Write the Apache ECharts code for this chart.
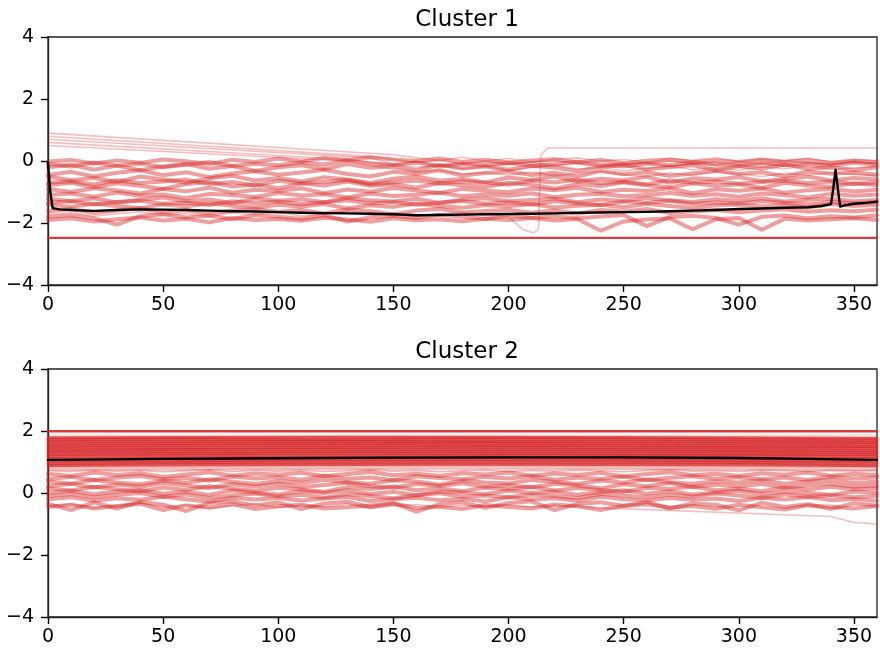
<!DOCTYPE html>
<html><head><meta charset="utf-8">
<script src="https://cdn.jsdelivr.net/npm/echarts@6/dist/echarts.min.js"></script>
<style>html,body{margin:0;padding:0;background:#fff}#c{width:880px;height:654px}</style>
</head><body><div id="c"></div>
<script>
// ---------- shared x grid ----------
const xs = [0,10,20,30,40,50,60,70,80,90,100,110,120,130,140,150,160,170,180,190,200,210,220,230,240,250,260,270,280,290,300,310,320,330,340,350,360];
const xTicks = [0,50,100,150,200,250,300,350];
const yTicks = [-4,-2,0,2,4];
const titles = ['Cluster 1','Cluster 2'];

// ---------- Cluster 1 ----------
const c1a = [-0.02,0.03,-0.08,0.02,-0.06,0.05,-0.01,-0.1,0.04,-0.03, 0.08,-0.02,0.1,0.03,0.12,0.05,0.0,0.08,-0.03,0.04, -0.05,0.02,0.06,-0.04,0.03,-0.07,0.01,0.05,-0.04,0.02, -0.03,0.05,-0.02,0.03,-0.06,0.02,-0.03];
const c1m = [-0.1,-0.18,-0.05,-0.15,-0.08,-0.2,-0.12,-0.03,-0.16,-0.09, -0.14,-0.04,-0.11,0.02,-0.07,-0.13,-0.05,-0.17,-0.09,-0.12, -0.06,-0.15,-0.1,-0.02,-0.12,-0.18,-0.08,-0.14,-0.05,-0.11, -0.16,-0.07,-0.13,-0.09,-0.15,-0.06,-0.12];
const c1b = [-0.2,-0.12,-0.28,-0.15,-0.3,-0.18,-0.1,-0.25,-0.16,-0.32, -0.2,-0.14,-0.26,-0.1,-0.22,-0.17,-0.3,-0.12,-0.24,-0.18, -0.28,-0.15,-0.21,-0.33,-0.19,-0.12,-0.27,-0.2,-0.14,-0.29, -0.17,-0.24,-0.11,-0.26,-0.19,-0.3,-0.2];
const c1c = [-0.45,-0.35,-0.5,-0.38,-0.3,-0.46,-0.36,-0.52,-0.4,-0.33, -0.44,-0.37,-0.28,-0.42,-0.5,-0.35,-0.41,-0.3,-0.47,-0.39, -0.34,-0.45,-0.38,-0.5,-0.32,-0.43,-0.36,-0.48,-0.4,-0.31, -0.42,-0.36,-0.49,-0.34,-0.41,-0.37,-0.44];
const c1d = [-0.5,-0.62,-0.55,-0.68,-0.5,-0.6,-0.7,-0.56,-0.48,-0.63, -0.55,-0.66,-0.52,-0.6,-0.71,-0.57,-0.5,-0.64,-0.58,-0.69, -0.53,-0.61,-0.49,-0.66,-0.57,-0.62,-0.51,-0.7,-0.56,-0.6, -0.52,-0.65,-0.58,-0.5,-0.63,-0.55,-0.6];
const c1n = [-0.7,-0.65,-0.76,-0.62,-0.71,-0.66,-0.6,-0.74,-0.68,-0.79, -0.64,-0.72,-0.67,-0.61,-0.75,-0.69,-0.63,-0.73,-0.66,-0.7, -0.77,-0.64,-0.69,-0.6,-0.72,-0.67,-0.75,-0.62,-0.7,-0.66, -0.73,-0.68,-0.64,-0.71,-0.66,-0.74,-0.69];
const c1e = [-0.78,-0.7,-0.85,-0.72,-0.8,-0.9,-0.74,-0.68,-0.82,-0.76, -0.88,-0.73,-0.79,-0.66,-0.8,-0.75,-0.86,-0.71,-0.78,-0.84, -0.7,-0.77,-0.89,-0.74,-0.81,-0.69,-0.78,-0.85,-0.72,-0.8, -0.75,-0.87,-0.7,-0.79,-0.83,-0.72,-0.78];
const c1f = [-0.9,-1.0,-0.88,-0.95,-1.05,-0.9,-0.98,-0.86,-1.02,-0.93, -0.97,-0.88,-1.04,-0.92,-0.99,-0.87,-0.95,-1.03,-0.9,-0.96, -1.01,-0.89,-0.94,-0.86,-1.0,-0.93,-0.97,-0.88,-1.04,-0.91, -0.96,-0.89,-1.02,-0.94,-0.9,-0.98,-0.93];
const c1g = [-1.1,-1.05,-1.15,-1.02,-1.12,-1.08,-1.2,-1.06,-1.1,-1.16, -1.03,-1.11,-1.07,-1.18,-1.05,-1.13,-1.09,-1.02,-1.14,-1.08, -1.12,-1.04,-1.17,-1.09,-1.06,-1.14,-1.1,-1.03,-1.12,-1.07, -1.15,-1.05,-1.1,-1.18,-1.06,-1.12,-1.08];
const c1h = [-1.22,-1.3,-1.2,-1.34,-1.25,-1.18,-1.3,-1.24,-1.36,-1.21, -1.28,-1.23,-1.33,-1.19,-1.27,-1.31,-1.22,-1.35,-1.25,-1.2, -1.3,-1.26,-1.21,-1.33,-1.24,-1.29,-1.19,-1.27,-1.32,-1.23, -1.28,-1.2,-1.31,-1.25,-1.22,-1.3,-1.26];
const c1o = [-1.35,-1.3,-1.4,-1.32,-1.28,-1.38,-1.34,-1.42,-1.3,-1.36, -1.31,-1.39,-1.33,-1.27,-1.37,-1.32,-1.41,-1.35,-1.29,-1.38, -1.33,-1.4,-1.3,-1.36,-1.42,-1.31,-1.35,-1.28,-1.39,-1.34, -1.37,-1.3,-1.35,-1.4,-1.32,-1.36,-1.33];
const c1i = [-1.4,-1.48,-1.38,-1.45,-1.52,-1.4,-1.46,-1.36,-1.44,-1.5, -1.41,-1.47,-1.39,-1.53,-1.43,-1.48,-1.37,-1.45,-1.51,-1.42, -1.46,-1.39,-1.5,-1.44,-1.41,-1.49,-1.38,-1.45,-1.52,-1.43, -1.4,-1.47,-1.42,-1.5,-1.39,-1.45,-1.41];
const c1j = [-1.62,-1.55,-1.68,-1.6,-1.52,-1.66,-1.58,-1.7,-1.6,-1.55, -1.64,-1.58,-1.69,-1.56,-1.62,-1.72,-1.6,-1.54,-1.66,-1.61, -1.57,-1.67,-1.6,-1.7,-1.58,-1.63,-1.55,-1.68,-1.62,-1.58, -1.65,-1.6,-1.56,-1.64,-1.59,-1.62,-1.57];
const c1k = [-1.8,-1.75,-1.85,-2.05,-1.78,-1.72,-1.82,-1.76,-1.88,-1.74, -1.8,-1.86,-1.75,-1.95,-1.82,-1.77,-1.84,-1.73,-1.8,-1.87, -1.76,-1.83,-1.78,-1.85,-1.79,-1.74,-2.1,-1.81,-1.77,-1.84, -2.05,-1.8,-1.76,-1.85,-1.78,-1.82,-1.75];
const c1l = [-1.9,-1.85,-1.95,-1.88,-1.82,-1.92,-1.86,-1.98,-1.84,-1.9, -1.87,-1.93,-1.83,-1.89,-1.96,-1.85,-1.91,-1.88,-1.94,-1.86, -1.9,-1.84,-1.92,-1.87,-2.25,-1.95,-1.89,-1.85,-2.2,-1.88, -1.84,-2.22,-1.86,-1.92,-1.88,-1.85,-1.9];
// lines with a gap at the start (straight segment)
const s1 = [0.9,null,null,null,null,null,null,null,null,null,null,null,null,null,null,0.2, 0.1,0.02,0.12,0.0,0.08,-0.03,0.06,0.1,0.0,0.05,-0.05,0.08,0.02,0.1,-0.02,0.06,0.0,0.09,-0.04,0.04,0.01];
const s2 = [0.8,null,null,null,null,null,null,null,null,null,null,null,null,null,0.15, 0.05,-0.05,0.02,-0.1,-0.02,-0.12,-0.04,0.0,-0.08,-0.15,-0.05,-0.1,0.0,-0.07,-0.13,-0.03,-0.09,0.01,-0.06,-0.11,-0.02,-0.08];
const s3 = [0.7,null,null,null,null,null,null,null,null,null,null,null,null,null,0.1, -0.1,-0.2,-0.15,-0.25,-0.18,-0.3,-0.22,-0.14,-0.26,-0.2,-0.32,-0.24,-0.17,-0.28,-0.21,-0.3,-0.19,-0.25,-0.16,-0.27,-0.22,-0.18];
const s4 = [0.6,null,null,null,null,null,null,null,null,null,null,null,null,0.05, -0.05,-0.12,-0.02,-0.15,-0.08,-0.18,-0.1,-0.04,-0.14,-0.09,-0.2,-0.11,-0.06,-0.16,-0.1,-0.03,-0.13,-0.08,-0.17,-0.07,-0.12,-0.05,-0.1];
const s5 = [0.5,null,null,null,null,null,null,null,null,null,null,null,null,0.0, -0.15,-0.25,-0.35,-0.3,-0.42,-0.38,-0.45,-0.36,-0.48,-0.4,-0.33,-0.44,-0.5,-0.39,-0.46,-0.35,-0.42,-0.5,-0.4,-0.45,-0.37,-0.43,-0.48];
// line that jumps up near x=213
const jumpX = [0,10,20,30,40,50,60,70,80,90,100,110,120,130,140,150,160,170,180,190,200,206,211,213,214,217,360];
const jumpY = [-1.72,-1.66,-1.78,-1.7,-1.64,-1.76,-1.69,-1.8,-1.67,-1.73,-1.65,-1.77,-1.7,-1.62,-1.75,-1.68,-1.79,-1.71,-1.66,-1.74,-1.8,-2.2,-2.32,-2.2,0.2,0.42,0.42];
const lowX = [0,360];
const lowY = [-2.48,-2.48];
// cluster 1 centroid
const meanX1 = [0,1,2,5,10,20,30,40,50,60,70,80,90,100,110,120,130,140,150,160,170,180,190,200,210,220,230,240,250,260,270,280,290,300,310,320,330,336,340,341,342,343,344,346,350,355,360];
const meanY1 = [-0.05,-1.0,-1.52,-1.56,-1.58,-1.61,-1.58,-1.56,-1.57,-1.58,-1.6,-1.62,-1.63,-1.65,-1.67,-1.68,-1.69,-1.7,-1.72,-1.75,-1.74,-1.73,-1.72,-1.71,-1.7,-1.69,-1.67,-1.66,-1.65,-1.64,-1.62,-1.6,-1.58,-1.55,-1.53,-1.51,-1.49,-1.45,-1.39,-0.9,-0.29,-0.9,-1.47,-1.43,-1.38,-1.35,-1.31];

// ---------- Cluster 2 ----------
const topX = [0,360];
const topY = [1.99,1.99];
const faintY = [1.86,1.86];
const flatX = [0,60,120,180,240,300,360];
const f1 = [1.78,1.79,1.8,1.8,1.79,1.78,1.77];
const f2 = [1.72,1.73,1.72,1.74,1.73,1.72,1.7];
const f3 = [1.65,1.66,1.67,1.66,1.66,1.65,1.64];
const f4 = [1.58,1.6,1.6,1.61,1.6,1.59,1.57];
const f5 = [1.52,1.53,1.54,1.54,1.53,1.52,1.5];
const f6 = [1.45,1.46,1.47,1.48,1.47,1.46,1.44];
const f7 = [1.38,1.4,1.41,1.41,1.4,1.39,1.37];
const f8 = [1.32,1.33,1.34,1.35,1.34,1.33,1.31];
const f9 = [1.25,1.27,1.28,1.28,1.27,1.26,1.24];
const f10 = [1.18,1.2,1.21,1.22,1.21,1.2,1.17];
const f11 = [1.1,1.12,1.14,1.15,1.14,1.12,1.1];
const f12 = [1.03,1.05,1.07,1.08,1.07,1.05,1.03];
const f13 = [0.96,0.98,1.0,1.01,1.0,0.98,0.96];
const f14 = [0.89,0.91,0.92,0.93,0.92,0.91,0.88];
const f15 = [0.82,0.84,0.85,0.86,0.85,0.84,0.82];
const f16 = [0.76,0.77,0.78,0.79,0.78,0.77,0.75];
const n11 = [0.72,0.7,0.74,0.71,0.73,0.69,0.72,0.75,0.7,0.73, 0.71,0.74,0.7,0.72,0.75,0.71,0.73,0.69,0.72,0.74, 0.7,0.73,0.71,0.74,0.72,0.69,0.73,0.75,0.71,0.72, 0.7,0.74,0.72,0.7,0.73,0.71,0.72];
const n1 = [0.62,0.55,0.66,0.58,0.64,0.52,0.6,0.67,0.56,0.63, 0.59,0.65,0.54,0.61,0.68,0.57,0.62,0.55,0.64,0.6, 0.66,0.56,0.63,0.58,0.65,0.53,0.61,0.67,0.57,0.62, 0.55,0.64,0.59,0.66,0.56,0.62,0.58];
const n2 = [0.45,0.52,0.42,0.5,0.55,0.44,0.49,0.4,0.53,0.47, 0.51,0.43,0.56,0.46,0.5,0.41,0.54,0.48,0.44,0.52, 0.47,0.55,0.43,0.5,0.45,0.53,0.41,0.49,0.54,0.46, 0.51,0.44,0.5,0.42,0.53,0.47,0.5];
const n3 = [0.38,0.3,0.42,0.34,0.28,0.4,0.33,0.44,0.36,0.29, 0.39,0.32,0.43,0.35,0.3,0.41,0.37,0.27,0.4,0.34, 0.31,0.42,0.36,0.29,0.4,0.33,0.44,0.35,0.3,0.38, 0.34,0.41,0.3,0.37,0.43,0.32,0.36];
const n4 = [0.22,0.3,0.18,0.27,0.2,0.32,0.24,0.16,0.28,0.21, 0.3,0.19,0.26,0.33,0.22,0.17,0.29,0.23,0.31,0.2, 0.26,0.18,0.3,0.24,0.15,0.28,0.22,0.32,0.19,0.27, 0.21,0.29,0.17,0.25,0.3,0.2,0.24];
const n5 = [0.15,0.08,0.2,0.12,0.05,0.18,0.1,0.22,0.14,0.07, 0.17,0.11,0.04,0.19,0.13,0.21,0.09,0.15,0.06,0.18, 0.12,0.2,0.08,0.16,0.1,0.03,0.17,0.13,0.21,0.09, 0.14,0.06,0.18,0.11,0.2,0.12,0.15];
const n6 = [0.0,0.07,-0.04,0.05,0.1,-0.02,0.04,-0.06,0.08,0.01, -0.05,0.06,0.0,0.09,-0.03,0.04,-0.07,0.05,0.02,-0.04, 0.08,0.0,0.05,-0.06,0.03,0.09,-0.02,0.06,-0.05,0.02, 0.07,-0.03,0.04,0.0,-0.06,0.05,0.01];
const n7 = [-0.1,-0.03,-0.14,-0.06,0.0,-0.12,-0.05,-0.16,-0.08,-0.02, -0.11,-0.06,-0.15,-0.04,-0.1,-0.17,-0.07,-0.01,-0.12,-0.08, -0.14,-0.05,-0.1,-0.16,-0.03,-0.09,-0.13,-0.06,-0.11,-0.02, -0.08,-0.15,-0.05,-0.12,-0.07,-0.14,-0.09];
const n8 = [-0.2,-0.14,-0.25,-0.17,-0.22,-0.12,-0.2,-0.28,-0.15,-0.21, -0.16,-0.24,-0.18,-0.13,-0.26,-0.2,-0.15,-0.23,-0.19,-0.27, -0.14,-0.21,-0.17,-0.25,-0.12,-0.2,-0.24,-0.16,-0.22,-0.18, -0.26,-0.15,-0.21,-0.13,-0.23,-0.19,-0.25];
const n9 = [-0.35,-0.55,-0.3,-0.5,-0.28,-0.38,-0.58,-0.32,-0.27,-0.4, -0.3,-0.52,-0.34,-0.28,-0.45,-0.33,-0.6,-0.36,-0.3,-0.48, -0.32,-0.27,-0.55,-0.35,-0.3,-0.42,-0.29,-0.5,-0.34,-0.38, -0.56,-0.31,-0.45,-0.36,-0.52,-0.33,-0.4];
const n10 = [-0.45,-0.38,-0.5,-0.42,-0.35,-0.55,-0.4,-0.47,-0.36,-0.52, -0.43,-0.38,-0.5,-0.46,-0.4,-0.34,-0.48,-0.44,-0.52,-0.39, -0.45,-0.5,-0.37,-0.43,-0.55,-0.41,-0.36,-0.47,-0.42,-0.51, -0.38,-0.46,-0.53,-0.4,-0.44,-0.5,-0.42];
const desc = [-0.42,-0.36,-0.48,-0.4,-0.33,-0.45,-0.38,-0.5,-0.41,-0.35, -0.47,-0.39,-0.44,-0.36,-0.5,-0.42,-0.37,-0.46,-0.4,-0.43, -0.38,-0.45,-0.4,-0.44,-0.48,null,null,null,null,null, null,null,null,null,-0.76,-0.95,-1.0];
const meanX2 = [0,50,100,150,200,250,300,330,360];
const meanY2 = [1.07,1.1,1.12,1.14,1.15,1.15,1.13,1.1,1.07];

// ---------- build ----------
const RED = '#d62728';
function pairs(xArr, yArr) {
  const out = [];
  for (let i = 0; i < xArr.length; i++) if (yArr[i] !== null) out.push([xArr[i], yArr[i]]);
  return out;
}
function ln(g, xArr, yArr, color, width, opacity, z) {
  return { type: 'line', xAxisIndex: g, yAxisIndex: g, data: pairs(xArr, yArr), symbol: 'none',
    silent: true, animation: false, z: z || 2, lineStyle: { color: color, width: width, opacity: opacity, join: 'round', cap: 'round' } };
}
const series = [];
[c1a,c1m,c1b,c1c,c1d,c1n,c1e,c1f,c1g,c1h,c1o,c1i,c1j,c1k,c1l].forEach(a => series.push(ln(0, xs, a, RED, 4, 0.45)));
[s1,s2,s3,s4,s5].forEach(a => series.push(ln(0, xs, a, RED, 1.6, 0.3)));
series.push(ln(0, jumpX, jumpY, RED, 1.6, 0.3));
series.push(ln(0, lowX, lowY, RED, 2.4, 0.9));
series.push(ln(0, meanX1, meanY1, '#000', 2.4, 1, 10));

series.push(ln(1, topX, topY, RED, 2.4, 0.9));
series.push(ln(1, topX, faintY, RED, 1.5, 0.2));
[f1,f2,f3,f4,f5,f6,f7,f8,f9,f10,f11,f12,f13,f14].forEach(a => series.push(ln(1, flatX, a, RED, 3, 0.8)));
[f15,f16].forEach(a => series.push(ln(1, flatX, a, RED, 2, 0.35)));
series.push(ln(1, xs, n11, RED, 1.8, 0.35));
[n1,n2,n3,n4,n5,n6,n7,n8,n9,n10].forEach(a => series.push(ln(1, xs, a, RED, 4, 0.45)));
series.push(ln(1, xs, desc, RED, 1.6, 0.3));
series.push(ln(1, meanX2, meanY2, '#000', 2.4, 1, 10));

const FONT = 'DejaVu Sans';
const fmt = v => String(v).replace('-', '\u2212');
function tickStyle() { return { show: true, length: 7, lineStyle: { color: '#000', width: 1.4 } }; }
function xAx(g) {
  return { type: 'value', gridIndex: g, min: xTicks[0], max: 360, interval: xTicks[1] - xTicks[0],
    axisLine: { show: true, onZero: false, lineStyle: { color: '#222', width: 1.3 } }, splitLine: { show: false },
    axisTick: tickStyle(),
    axisLabel: { show: true, margin: 11, color: '#000', fontFamily: FONT, fontSize: 19, lineHeight: 19, showMaxLabel: false, formatter: fmt } };
}
function yAx(g) {
  return { type: 'value', gridIndex: g, min: yTicks[0], max: yTicks[yTicks.length - 1], interval: yTicks[1] - yTicks[0],
    axisLine: { show: true, onZero: false, lineStyle: { color: '#222', width: 1.3 } }, splitLine: { show: false },
    axisTick: tickStyle(),
    axisLabel: { show: true, margin: 14, color: '#000', fontFamily: FONT, fontSize: 19, formatter: fmt } };
}
const chart = echarts.init(document.getElementById('c'), null, { renderer: 'canvas' });
chart.setOption({
  backgroundColor: '#fff',
  animation: false,
  title: [
    { text: titles[0], left: 462, top: 2, textAlign: 'center', textStyle: { fontFamily: FONT, fontSize: 23, fontWeight: 'normal', color: '#000', lineHeight: 26 } },
    { text: titles[1], left: 462, top: 334, textAlign: 'center', textStyle: { fontFamily: FONT, fontSize: 23, fontWeight: 'normal', color: '#000', lineHeight: 26 } }
  ],
  grid: [
    { left: 48, top: 37, width: 829, height: 248, show: true, borderColor: '#222', borderWidth: 1.3, backgroundColor: 'transparent' },
    { left: 48, top: 369, width: 829, height: 248, show: true, borderColor: '#222', borderWidth: 1.3, backgroundColor: 'transparent' }
  ],
  xAxis: [xAx(0), xAx(1)],
  yAxis: [yAx(0), yAx(1)],
  series: series
});
</script></body></html>
